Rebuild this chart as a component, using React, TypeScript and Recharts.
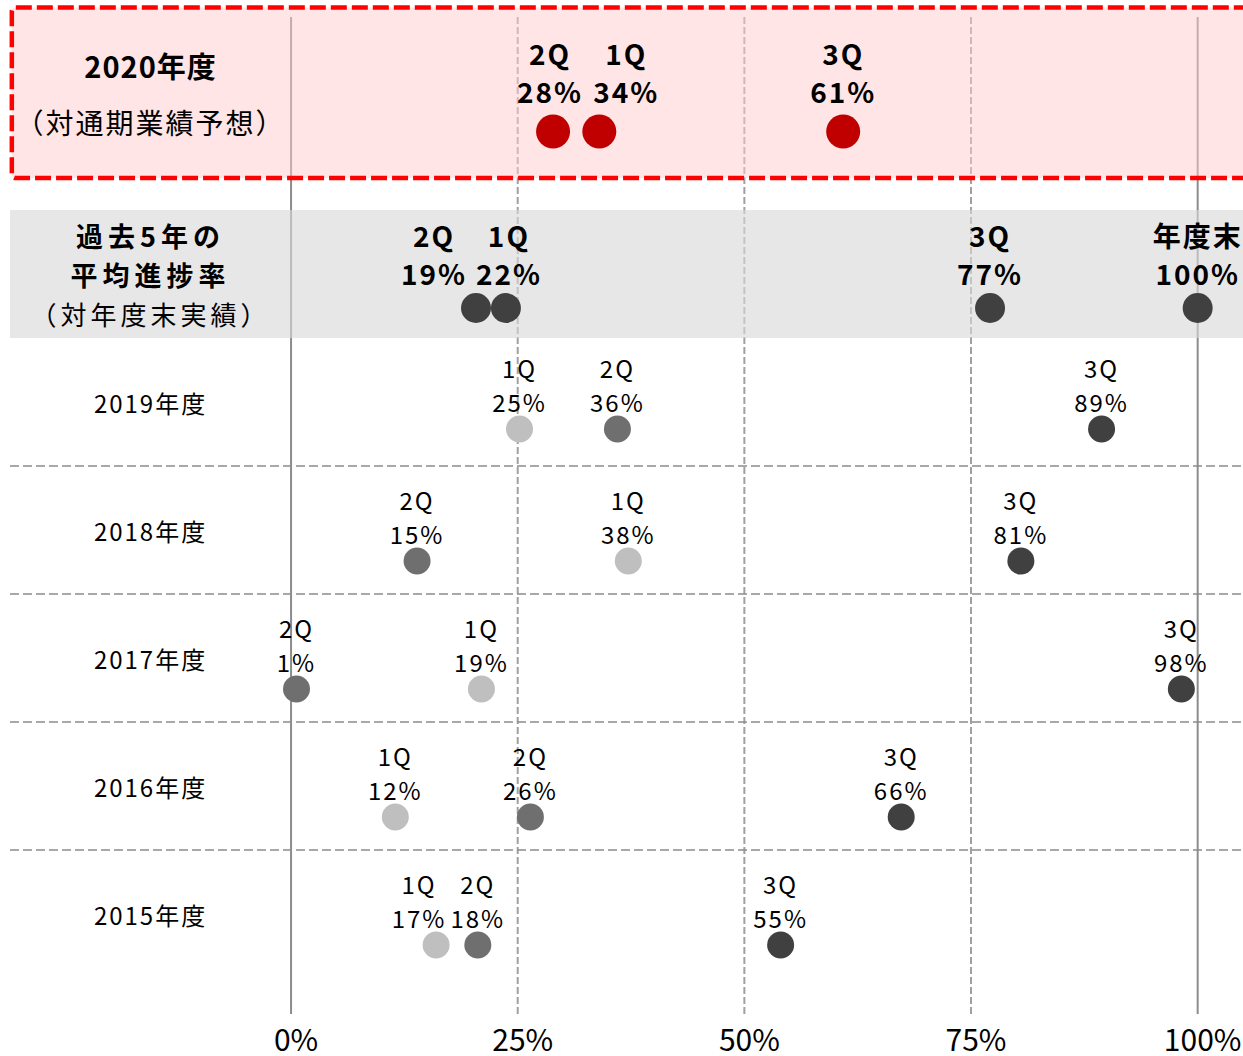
import { ScatterChart, Scatter, XAxis, YAxis, ReferenceArea, ReferenceLine } from 'recharts';

const FONT = '"Noto Sans CJK JP", "Noto Sans", sans-serif';

// rows from top to bottom
const ROW_KEYS = ['fy2020', 'avg5', 'fy2019', 'fy2018', 'fy2017', 'fy2016', 'fy2015'];
const ROW_TITLES = [
  ['2020年度', '（対通期業績予想）'],
  ['過去5年の', '平均進捗率', '（対年度末実績）'],
  ['2019年度'],
  ['2018年度'],
  ['2017年度'],
  ['2016年度'],
  ['2015年度'],
];

// progress vs. full year (%), where each dot sits
const Q1_VALUES = [34.0, 23.7, 25.2, 37.2, 21.0, 11.5, 16.0];
const Q2_VALUES = [28.9, 20.4, 36.0, 13.9, 0.6, 26.4, 20.6];
const Q3_VALUES = [60.9, 77.1, 89.4, 80.5, 98.2, 67.3, 54.0];
const YEAR_END_VALUE = 100; // average row only

// printed labels
const Q1_LABELS = ['34%', '22%', '25%', '38%', '19%', '12%', '17%'];
const Q2_LABELS = ['28%', '19%', '36%', '15%', '1%', '26%', '18%'];
const Q3_LABELS = ['61%', '77%', '89%', '81%', '98%', '66%', '55%'];
const YEAR_END_LABEL = '100%';

const X_TICKS = [0, 25, 50, 75, 100];

// ---- layout (y axis runs in page pixels) ----
const ROW_LAYOUT = [
  { top: 8, bottom: 178, dot: 131.5 },
  { top: 210, bottom: 338, dot: 308 },
  { top: 338, bottom: 466, dot: 429 },
  { top: 466, bottom: 594, dot: 561 },
  { top: 594, bottom: 722, dot: 689 },
  { top: 722, bottom: 850, dot: 817 },
  { top: 850, bottom: 978, dot: 945 },
];

const ROW_STYLE: Record<string, any> = {
  forecast: { r: 17, size: 28, weight: 700, lineDy: [-79, -41] },
  average: { r: 15, size: 28, weight: 700, lineDy: [-73, -35] },
  year: { r: 13.5, size: 24, weight: 400, lineDy: [-62, -28] },
};

// labels moved sideways to avoid overlaps
const LABEL_NUDGE: Record<string, number> = {
  'fy2020-1Q': 27,
  'avg5-2Q': -42,
  'fy2020-2Q': -3,
  'avg5-1Q': 3,
  'fy2015-1Q': -17,
};

const TITLE_STYLE = [
  { gap: 57, lines: [{ size: 29, weight: 700, ls: 1 }, { size: 28, weight: 400, ls: 2 }] },
  {
    gap: 39,
    lines: [
      { size: 27, weight: 700, ls: 5 },
      { size: 27, weight: 700, ls: 5 },
      { size: 26, weight: 400, ls: 4 },
    ],
  },
];
const YEAR_TITLE = { gap: 0, lines: [{ size: 24, weight: 400, ls: 2 }] };

const COLORS = {
  forecast: '#C00000',
  average: '#404040',
  q1: '#BFBFBF',
  q2: '#6F6F6F',
  q3: '#404040',
};

type Pt = { x: number; y: number; q: string; label: string; row: number };

const YEAR_ROWS = [2, 3, 4, 5, 6];

const pts = (rows: number[], values: number[], labels: string[], q: string): Pt[] =>
  rows.map((i) => ({ x: values[i], y: ROW_LAYOUT[i].dot, q, label: labels[i], row: i }));

const forecastData = [
  ...pts([0], Q2_VALUES, Q2_LABELS, '2Q'),
  ...pts([0], Q1_VALUES, Q1_LABELS, '1Q'),
  ...pts([0], Q3_VALUES, Q3_LABELS, '3Q'),
];
const averageData = [
  ...pts([1], Q2_VALUES, Q2_LABELS, '2Q'),
  ...pts([1], Q1_VALUES, Q1_LABELS, '1Q'),
  ...pts([1], Q3_VALUES, Q3_LABELS, '3Q'),
  { x: YEAR_END_VALUE, y: ROW_LAYOUT[1].dot, q: '年度末', label: YEAR_END_LABEL, row: 1 },
];
const q1Data = pts(YEAR_ROWS, Q1_VALUES, Q1_LABELS, '1Q');
const q2Data = pts(YEAR_ROWS, Q2_VALUES, Q2_LABELS, '2Q');
const q3Data = pts(YEAR_ROWS, Q3_VALUES, Q3_LABELS, '3Q');

const makeDot = (color: string) => (props: any) => {
  const { cx, cy, payload } = props;
  const kind = payload.row === 0 ? 'forecast' : payload.row === 1 ? 'average' : 'year';
  const st = ROW_STYLE[kind];
  const dx = LABEL_NUDGE[`${ROW_KEYS[payload.row]}-${payload.q}`] ?? 0;
  const textProps = {
    textAnchor: 'middle' as const,
    dominantBaseline: 'central' as const,
    fontFamily: FONT,
    fontSize: st.size,
    fontWeight: st.weight,
    letterSpacing: 2,
    fill: '#000',
  };
  return (
    <g>
      <circle cx={cx} cy={cy} r={st.r} fill={color} />
      <text x={cx + dx} y={cy + st.lineDy[0]} {...textProps}>
        {payload.q}
      </text>
      <text x={cx + dx} y={cy + st.lineDy[1]} {...textProps}>
        {payload.label}
      </text>
    </g>
  );
};

const titleLabel = (i: number) => (props: any) => {
  const vb = props.viewBox;
  const cx = vb.x + vb.width / 2;
  const cy = vb.y + vb.height / 2;
  const style = i < 2 ? TITLE_STYLE[i] : YEAR_TITLE;
  const lines = ROW_TITLES[i];
  const start = cy - ((lines.length - 1) * style.gap) / 2;
  return (
    <g>
      {lines.map((t, k) => (
        <text
          key={k}
          x={cx}
          y={start + k * style.gap}
          textAnchor="middle"
          dominantBaseline="central"
          fontFamily={FONT}
          fontSize={style.lines[k].size}
          fontWeight={style.lines[k].weight}
          letterSpacing={style.lines[k].ls}
          fill="#000"
        >
          {t}
        </text>
      ))}
    </g>
  );
};

const PctTick = (props: any) => {
  const { x, y, payload } = props;
  return (
    <text
      x={x + 5}
      y={y + 16}
      textAnchor="middle"
      dominantBaseline="central"
      fontFamily={FONT}
      fontSize={30}
      fill="#000"
    >
      {`${payload.value}%`}
    </text>
  );
};

export default function App() {
  return (
    <div style={{ position: 'absolute', left: 0, top: 0, width: 1243, height: 1056, background: '#fff' }}>
      <ScatterChart width={1243} height={1056} margin={{ top: 17, right: 0, bottom: 0, left: 10 }}>
        <XAxis
          type="number"
          dataKey="x"
          domain={[-31, 105]}
          allowDataOverflow
          ticks={X_TICKS}
          interval={0}
          axisLine={false}
          tickLine={false}
          height={42}
          tick={<PctTick />}
        />
        <YAxis type="number" dataKey="y" domain={[17, 1014]} reversed hide allowDataOverflow />

        {X_TICKS.map((v) => (
          <ReferenceLine
            key={`v${v}`}
            x={v}
            stroke={v === 0 || v === 100 ? '#8C8C8C' : '#A0A0A0'}
            strokeWidth={2}
            strokeDasharray={v === 0 || v === 100 ? undefined : '7 3'}
          />
        ))}
        {YEAR_ROWS.slice(0, -1).map((i) => (
          <ReferenceLine
            key={`h${i}`}
            y={ROW_LAYOUT[i].bottom}
            stroke="#8C8C8C"
            strokeWidth={1.5}
            strokeDasharray="9 4"
          />
        ))}

        <ReferenceArea
          x1={-31}
          x2={105}
          y1={ROW_LAYOUT[1].top}
          y2={ROW_LAYOUT[1].bottom}
          fill="#D9D9D9"
          fillOpacity={0.62}
          stroke="none"
          ifOverflow="visible"
          zIndex={450}
        />
        <ReferenceArea
          x1={-30.8}
          x2={106}
          y1={ROW_LAYOUT[0].top - 0.5}
          y2={ROW_LAYOUT[0].bottom}
          ifOverflow="visible"
          zIndex={450}
          shape={(p: any) => (
            <rect
              x={p.x}
              y={p.y}
              width={p.width}
              height={p.height}
              rx={4}
              fill="#FFCCCC"
              fillOpacity={0.5}
              stroke="#FF0000"
              strokeWidth={4.5}
              strokeDasharray="16 5"
            />
          )}
        />

        {ROW_LAYOUT.map((r, i) => (
          <ReferenceArea
            key={`t${i}`}
            x1={-31}
            x2={0}
            y1={r.top}
            y2={r.bottom}
            fill="none"
            fillOpacity={0}
            stroke="none"
            ifOverflow="visible"
            zIndex={700}
            label={titleLabel(i)}
          />
        ))}

        <Scatter name="2020年度" data={forecastData} shape={makeDot(COLORS.forecast)} isAnimationActive={false} />
        <Scatter name="過去5年平均" data={averageData} shape={makeDot(COLORS.average)} isAnimationActive={false} />
        <Scatter name="1Q" data={q1Data} shape={makeDot(COLORS.q1)} isAnimationActive={false} />
        <Scatter name="2Q" data={q2Data} shape={makeDot(COLORS.q2)} isAnimationActive={false} />
        <Scatter name="3Q" data={q3Data} shape={makeDot(COLORS.q3)} isAnimationActive={false} />
      </ScatterChart>
    </div>
  );
}
